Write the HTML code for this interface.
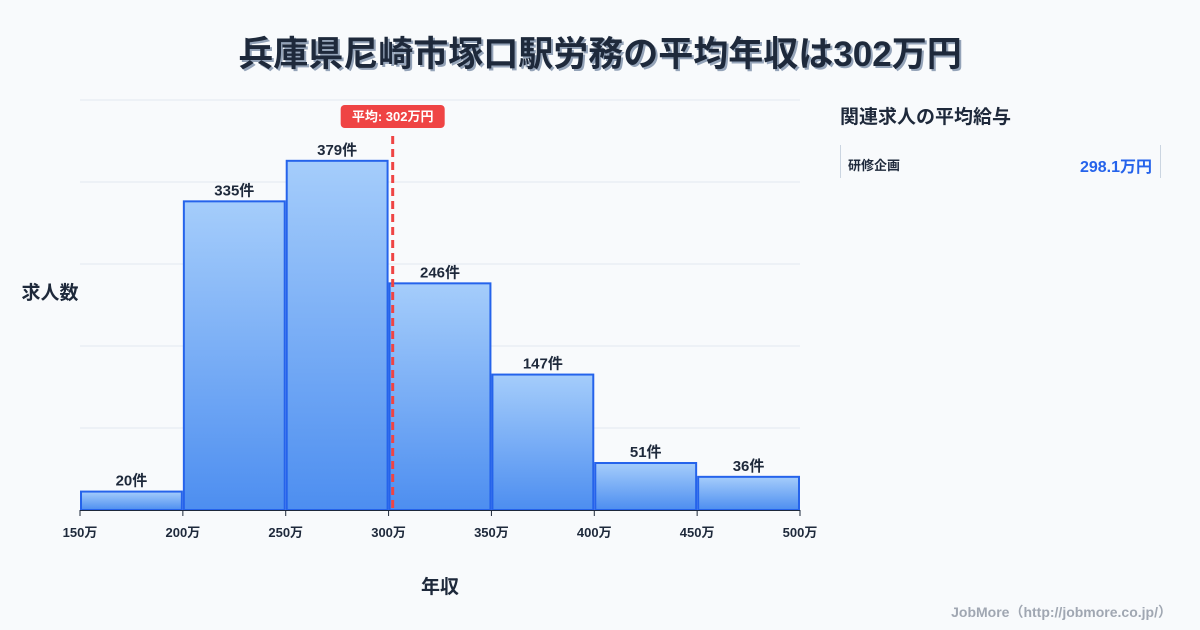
<!DOCTYPE html>
<html><head><meta charset="utf-8">
<style>
body{margin:0;background:#f8fafc;font-family:"Liberation Sans","Noto Sans CJK JP",sans-serif;}
#wrap{position:relative;width:1200px;height:630px;overflow:hidden;}
svg text{font-family:"Liberation Sans","Noto Sans CJK JP",sans-serif;}
</style></head><body>
<div id="wrap">
<svg id="chart" width="1200" height="630">
<defs><linearGradient id="g" x1="0" y1="0" x2="0" y2="1"><stop offset="0" stop-color="#a5cdfb"/><stop offset="1" stop-color="#4d8ef0"/></linearGradient></defs>
<text x="602" y="68" text-anchor="middle" font-size="35" font-weight="bold" fill="#94a3b8">兵庫県尼崎市塚口駅労務の平均年収は302万円</text>
<text x="600" y="66" text-anchor="middle" font-size="35" font-weight="bold" fill="#1e293b">兵庫県尼崎市塚口駅労務の平均年収は302万円</text>
<text x="50" y="299" text-anchor="middle" font-size="19" font-weight="bold" fill="#1e293b">求人数</text>
<text x="440" y="593" text-anchor="middle" font-size="19" font-weight="bold" fill="#1e293b">年収</text>
<text x="840" y="123" font-size="19" font-weight="bold" fill="#1e293b">関連求人の平均給与</text>
<line x1="840.5" y1="145" x2="840.5" y2="178" stroke="#cbd5e1"/>
<line x1="1160.5" y1="145" x2="1160.5" y2="178" stroke="#cbd5e1"/>
<text x="848" y="170" font-size="13" font-weight="bold" fill="#1e293b">研修企画</text>
<text x="1152" y="172" text-anchor="end" font-size="16" font-weight="bold" fill="#2563eb">298.1万円</text>
<text x="1172" y="617" text-anchor="end" font-size="14" font-weight="bold" fill="#a0a7b2">JobMore（http://jobmore.co.jp/）</text>
<g id="plot"></g>
</svg>
</div>
<script>
const binStarts=[150,200,250,300,350,400,450];
const counts=[20,335,379,246,147,51,36];
const xTicks=[150,200,250,300,350,400,450,500];
const meanValue=302;
const meanLabel="平均: 302万円";

const X0=80,X1=800,Y0=510,Y1=100,xMin=150,xMax=500,yMax=445;
const xs=v=>X0+(v-xMin)/(xMax-xMin)*(X1-X0);
const ys=v=>Y0-v/yMax*(Y0-Y1);
const NS="http://www.w3.org/2000/svg";
const plot=document.getElementById('plot');
function mk(t,a){const e=document.createElementNS(NS,t);for(const k in a)e.setAttribute(k,a[k]);plot.appendChild(e);return e;}
for(let i=0;i<=5;i++){const y=Y0-i*(Y0-Y1)/5;
 const l=mk('line',{x1:X0,x2:X1,y1:y,y2:y,stroke:'#e2e8f0'});
 
 }
binStarts.forEach((b,i)=>{
 const x=xs(b)+1,w=xs(b+50)-xs(b)-2,y=ys(counts[i]);
 const r=mk('rect',{x:x,y:y,width:w,height:Y0-y,fill:'url(#g)',stroke:'#2563eb','stroke-width':2});
 
 
 const t=mk('text',{x:x+w/2,y:y-6,'text-anchor':'middle','font-size':15,'font-weight':'bold',fill:'#1e293b'});
 t.textContent=counts[i]+'件';
 
 
});
const ax=mk('line',{x1:X0,x2:X1,y1:Y0+0.5,y2:Y0+0.5,stroke:'#1e293b'});


xTicks.forEach(v=>{
 const tk=mk('line',{x1:xs(v),x2:xs(v),y1:Y0,y2:Y0+6,stroke:'#1e293b'});
 
 
 const t=mk('text',{x:xs(v),y:Y0+27,'text-anchor':'middle','font-size':13,'font-weight':'bold',fill:'#1e293b'});
 t.textContent=v+'万';
 
 
});
const mx=xs(meanValue);
const ml=mk('line',{x1:mx,x2:mx,y1:136,y2:Y0,stroke:'#ef4444','stroke-width':3,'stroke-dasharray':'8,5'});


const mb=mk('rect',{x:mx-52,y:105,width:104,height:23,rx:4,fill:'#ef4444'});


const mt=mk('text',{x:mx,y:121,'text-anchor':'middle','font-size':13,'font-weight':'bold',fill:'#fff'});
mt.textContent=meanLabel;


</script>
</body></html>
